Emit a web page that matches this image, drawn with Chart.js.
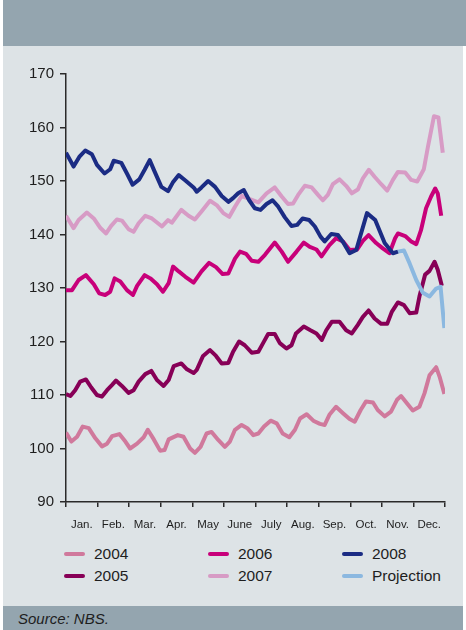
<!DOCTYPE html>
<html>
<head>
<meta charset="utf-8">
<script src="https://cdn.jsdelivr.net/npm/chart.js@4/dist/chart.umd.min.js"></script>
<style>
  body { margin: 0; width: 466px; height: 630px; position: relative; background: #fff; font-family: "Liberation Sans", Arial, sans-serif; overflow: hidden; }
  .top { position: absolute; left: 3px; top: 0; width: 463px; height: 46px; background: #94a5af; }
  .panel { position: absolute; left: 3px; top: 46px; width: 460px; height: 560px; background: #dde3e6; }
  .foot { position: absolute; left: 3px; top: 606px; width: 460px; height: 24px; background: #94a5af; }
  .foot span { position: absolute; left: 15px; top: 4px; font-size: 15px; font-style: italic; color: #1e1e1e; }
  #graph { position: absolute; left: 3px; top: 46px; }
  .legend { position: absolute; top: 543px; left: 0; width: 466px; height: 44px; }
  .item { position: absolute; height: 22px; font-size: 15.5px; color: #1e1e1e; line-height: 22px; }
  .item i { position: absolute; left: 0; top: 9px; width: 21px; height: 4px; border-radius: 2px; }
  .item span { position: absolute; left: 30px; top: 0; white-space: nowrap; }
</style>
</head>
<body>
<div class="top"></div>
<div class="panel"></div>
<div class="foot"><span>Source: NBS.</span></div>
<canvas id="graph" width="460" height="484"></canvas>
<div class="legend" id="legend"></div>
<script>
// month labels, x values are in months from Jan. 1 (0..12)
var months = ['Jan.', 'Feb.', 'Mar.', 'Apr.', 'May', 'June', 'July', 'Aug.', 'Sep.', 'Oct.', 'Nov.', 'Dec.'];
var yTicks = [90, 100, 110, 120, 130, 140, 150, 160, 170];

var x2004 = [0, 0.17, 0.35, 0.53, 0.72, 0.93, 1.14, 1.30, 1.46, 1.69, 1.88, 2.03, 2.25, 2.46, 2.59, 2.78, 2.98, 3.12, 3.25, 3.54, 3.72, 3.93, 4.08, 4.26, 4.45, 4.61, 4.82, 5.03, 5.19, 5.35, 5.56, 5.74, 5.93, 6.09, 6.27, 6.48, 6.67, 6.86, 7.07, 7.25, 7.41, 7.62, 7.83, 8.04, 8.19, 8.34, 8.55, 8.77, 8.98, 9.14, 9.33, 9.50, 9.72, 9.87, 10.09, 10.29, 10.48, 10.61, 10.80, 10.98, 11.19, 11.35, 11.51, 11.72, 11.83, 11.98];
var v2004 = [103.0, 101.3, 102.2, 104.1, 103.8, 101.9, 100.4, 100.9, 102.3, 102.7, 101.3, 100.0, 100.9, 102.1, 103.5, 101.7, 99.6, 99.7, 101.7, 102.5, 102.2, 100.0, 99.2, 100.3, 102.8, 103.1, 101.6, 100.3, 101.3, 103.5, 104.4, 103.8, 102.5, 102.8, 104.1, 105.2, 104.7, 102.8, 102.1, 103.5, 105.6, 106.4, 105.2, 104.6, 104.4, 106.3, 107.8, 106.6, 105.5, 105.0, 107.2, 108.8, 108.6, 107.2, 106.0, 106.9, 109.1, 109.8, 108.4, 107.1, 107.8, 110.3, 113.7, 115.2, 113.4, 110.2];

var x2005 = [0, 0.14, 0.29, 0.45, 0.63, 0.80, 0.98, 1.14, 1.30, 1.46, 1.58, 1.77, 1.98, 2.14, 2.30, 2.51, 2.70, 2.88, 3.09, 3.25, 3.41, 3.65, 3.83, 4.04, 4.14, 4.34, 4.56, 4.75, 4.93, 5.14, 5.29, 5.48, 5.66, 5.88, 6.09, 6.24, 6.40, 6.61, 6.77, 6.98, 7.14, 7.28, 7.53, 7.74, 7.93, 8.10, 8.24, 8.42, 8.66, 8.87, 9.05, 9.24, 9.40, 9.58, 9.77, 9.98, 10.17, 10.32, 10.51, 10.70, 10.88, 11.09, 11.19, 11.37, 11.51, 11.67, 11.77, 11.90];
var v2005 = [110.2, 109.8, 110.9, 112.5, 112.9, 111.4, 110.0, 109.7, 110.9, 111.9, 112.7, 111.7, 110.4, 110.9, 112.5, 113.9, 114.5, 112.8, 111.7, 112.8, 115.4, 115.9, 114.8, 114.1, 114.7, 117.3, 118.4, 117.3, 115.9, 116.0, 118.1, 120.0, 119.3, 117.9, 118.1, 119.7, 121.4, 121.4, 119.7, 118.7, 119.3, 121.5, 122.8, 122.1, 121.5, 120.3, 122.1, 123.7, 123.7, 122.1, 121.5, 123.1, 124.6, 125.8, 124.3, 123.3, 123.3, 125.6, 127.3, 126.8, 125.3, 125.4, 128.4, 132.5, 133.2, 134.9, 133.4, 130.4];

var x2006 = [0, 0.19, 0.40, 0.63, 0.88, 1.05, 1.24, 1.40, 1.54, 1.72, 1.93, 2.12, 2.25, 2.49, 2.67, 2.88, 3.07, 3.25, 3.39, 3.57, 3.78, 4.04, 4.29, 4.53, 4.75, 4.96, 5.14, 5.35, 5.51, 5.70, 5.88, 6.09, 6.30, 6.61, 6.83, 7.03, 7.30, 7.53, 7.72, 7.93, 8.09, 8.34, 8.55, 8.77, 8.98, 9.22, 9.40, 9.58, 9.82, 10.03, 10.24, 10.42, 10.51, 10.74, 10.93, 11.09, 11.24, 11.40, 11.56, 11.69, 11.77, 11.88];
var v2006 = [129.6, 129.6, 131.5, 132.4, 130.7, 129.0, 128.7, 129.3, 131.8, 131.2, 129.6, 128.7, 130.4, 132.4, 131.8, 130.7, 129.3, 130.9, 134.0, 133.1, 132.1, 131.0, 133.1, 134.7, 133.9, 132.6, 132.7, 135.5, 136.8, 136.4, 135.1, 134.9, 136.2, 138.5, 136.8, 134.9, 136.8, 138.5, 137.7, 137.2, 135.9, 138.0, 139.3, 138.7, 137.1, 137.2, 138.8, 139.9, 138.4, 137.4, 136.5, 139.3, 140.2, 139.7, 138.7, 138.2, 140.8, 144.9, 147.1, 148.6, 147.7, 143.5];

var x2007 = [0, 0.24, 0.40, 0.66, 0.88, 1.09, 1.27, 1.43, 1.61, 1.77, 1.98, 2.14, 2.30, 2.51, 2.72, 3.04, 3.23, 3.35, 3.65, 3.88, 4.08, 4.29, 4.56, 4.77, 4.98, 5.17, 5.35, 5.56, 5.82, 6.09, 6.35, 6.61, 6.83, 7.03, 7.19, 7.35, 7.56, 7.78, 7.98, 8.13, 8.29, 8.45, 8.66, 8.87, 9.05, 9.24, 9.40, 9.59, 9.77, 9.98, 10.17, 10.35, 10.51, 10.74, 10.93, 11.12, 11.33, 11.46, 11.65, 11.79, 11.93];
var v2007 = [143.5, 141.2, 142.7, 144.1, 143.0, 141.2, 140.2, 141.6, 142.8, 142.6, 141.0, 140.5, 142.1, 143.5, 143.0, 141.5, 142.7, 142.2, 144.6, 143.5, 142.8, 144.3, 146.3, 145.5, 144.0, 143.3, 145.2, 147.2, 146.6, 146.0, 147.7, 148.8, 147.1, 145.7, 145.8, 147.4, 149.1, 148.8, 147.4, 146.4, 147.4, 149.4, 150.3, 149.1, 147.7, 148.4, 150.5, 152.1, 150.8, 149.4, 148.2, 150.2, 151.7, 151.6, 150.2, 149.9, 152.2, 156.4, 162.1, 161.9, 155.3];

var x2008 = [0, 0.24, 0.42, 0.61, 0.82, 0.98, 1.22, 1.40, 1.51, 1.75, 1.93, 2.11, 2.32, 2.49, 2.65, 2.81, 3.02, 3.23, 3.38, 3.57, 3.78, 4.04, 4.14, 4.29, 4.50, 4.72, 4.93, 5.14, 5.29, 5.45, 5.63, 5.80, 5.98, 6.16, 6.35, 6.54, 6.72, 6.93, 7.14, 7.32, 7.49, 7.70, 7.88, 8.06, 8.19, 8.40, 8.61, 8.77, 8.98, 9.19, 9.53, 9.79, 10.09, 10.35, 10.51];
var v2008 = [155.3, 152.7, 154.5, 155.7, 155.0, 153.0, 151.4, 152.2, 153.8, 153.4, 151.4, 149.3, 150.3, 152.1, 153.9, 151.7, 148.9, 148.1, 149.7, 151.1, 150.1, 148.8, 148.0, 148.8, 150.0, 148.9, 147.2, 146.1, 146.8, 147.7, 148.3, 146.4, 144.9, 144.6, 145.7, 146.4, 145.2, 143.2, 141.6, 141.8, 143.0, 142.7, 141.5, 139.6, 138.7, 140.1, 139.9, 138.6, 136.5, 137.1, 144.0, 142.7, 138.4, 136.5, 136.8];

var xProj = [10.51, 10.70, 10.88, 11.09, 11.30, 11.51, 11.72, 11.86, 11.98];
var vProj = [136.8, 137.0, 134.6, 131.5, 129.1, 128.4, 129.9, 130.2, 122.5];

function points(xs, ys) {
  return xs.map(function (x, i) { return { x: x, y: ys[i] }; });
}

function series(label, color, xs, ys, order) {
  return {
    label: label,
    data: points(xs, ys),
    borderColor: color,
    backgroundColor: color,
    borderWidth: 4,
    borderJoinStyle: 'round',
    pointRadius: 0,
    tension: 0,
    fill: false,
    order: order
  };
}

var datasets = [
  series('2004', '#d0799c', x2004, v2004, 5),
  series('2005', '#870057', x2005, v2005, 4),
  series('2006', '#c8007a', x2006, v2006, 3),
  series('2007', '#d79bc5', x2007, v2007, 2),
  series('2008', '#1b2c84', x2008, v2008, 0),
  series('Projection', '#8bb8e0', xProj, vProj, 1)
];

var axisColor = '#2a2a2a';
var ctx = document.getElementById('graph').getContext('2d');
var chart = new Chart(ctx, {
  type: 'line',
  data: { datasets: datasets },
  options: {
    responsive: false,
    animation: false,
    layout: { padding: { top: 28, right: 18, bottom: 0, left: 0 } },
    plugins: { legend: { display: false }, tooltip: { enabled: false } },
    scales: {
      x: {
        type: 'linear', position: 'bottom', min: 0, max: 12,
        ticks: { display: false, stepSize: 1 },
        grid: { drawOnChartArea: false, drawTicks: true, tickLength: 5, color: axisColor, lineWidth: 1.5 },
        border: { color: axisColor, width: 1.5 },
        afterFit: function (scale) { scale.height = 6; }
      },
      months: {
        type: 'linear', position: 'bottom', weight: 1, min: 0, max: 12,
        afterBuildTicks: function (scale) {
          scale.ticks = months.map(function (m, i) { return { value: i + 0.5 }; });
        },
        ticks: {
          autoSkip: false, maxRotation: 0, padding: 2,
          color: '#1e1e1e', font: { size: 11.5, family: '"Liberation Sans", Arial, sans-serif' },
          callback: function (v, i) { return months[i]; }
        },
        grid: { display: false },
        border: { display: false },
        afterFit: function (scale) { scale.height = 22; }
      },
      y: {
        min: 90, max: 170,
        afterBuildTicks: function (scale) {
          scale.ticks = yTicks.map(function (v) { return { value: v }; });
        },
        ticks: { padding: 6, color: '#1e1e1e', font: { size: 15, family: '"Liberation Sans", Arial, sans-serif' } },
        grid: { drawOnChartArea: false, drawTicks: true, tickLength: 6, color: axisColor, lineWidth: 1.5 },
        border: { color: axisColor, width: 1.5 },
        afterFit: function (scale) { scale.width = 63; }
      }
    }
  }
});

// three-column legend: 2004/2005, 2006/2007, 2008/Projection
var legendCols = [64, 208, 342];
var legendEl = document.getElementById('legend');
chart.data.datasets.forEach(function (ds, i) {
  var col = Math.floor(i / 2), row = i % 2;
  var item = document.createElement('div');
  item.className = 'item';
  item.style.left = legendCols[col] + 'px';
  item.style.top = (row * 22) + 'px';
  item.innerHTML = '<i style="background:' + ds.borderColor + '"></i><span>' + ds.label + '</span>';
  legendEl.appendChild(item);
});
</script>
</body>
</html>
